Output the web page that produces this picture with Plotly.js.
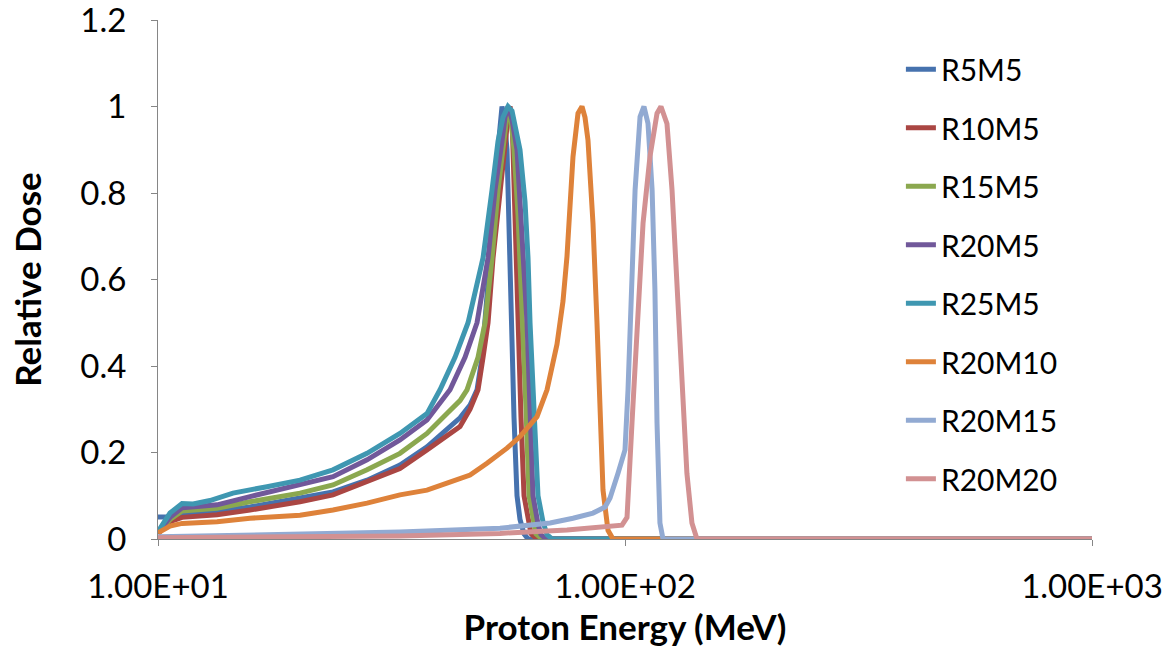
<!DOCTYPE html>
<html>
<head>
<meta charset="utf-8">
<script src="https://cdn.plot.ly/plotly-3.0.1.min.js"></script>
<style>html,body{margin:0;padding:0;background:#fff;}#chart{width:1167px;height:651px;}</style>
</head>
<body>
<div id="chart"></div>
<script>
// Proton energy (MeV) and relative dose for each series
const R5M5_energy = [10.00,10.50,11.26,13.38,15.74,20.14,23.70,28.03,32.97,37.67,41.57,44.33,46.58,48.21,49.41,50.15,51.40,52.43,53.47,54.00,54.53,55.07,55.89,56.45,57.01,57.86,58.72,59.59,60.78,61.99,1000];
const R5M5_dose   = [0.051,0.051,0.058,0.064,0.074,0.094,0.109,0.136,0.171,0.213,0.252,0.28,0.31,0.345,0.42,0.5,0.65,0.807,0.92,0.975,1.0,0.98,0.9,0.72,0.5,0.28,0.1,0.045,0.012,0,0];

const R10M5_energy = [10.00,10.61,11.26,13.38,15.74,20.14,23.70,28.03,32.97,37.67,41.57,44.33,46.58,48.45,49.66,50.90,52.17,54.00,55.62,56.17,56.73,57.29,57.57,58.14,59.01,59.89,60.78,61.99,62.92,64.80,1000];
const R10M5_dose   = [0.012,0.04,0.05,0.056,0.067,0.086,0.102,0.133,0.163,0.206,0.237,0.26,0.3,0.345,0.42,0.5,0.65,0.807,0.92,0.975,1.0,0.97,0.9,0.72,0.5,0.28,0.1,0.04,0.012,0,0];

const R15M5_energy = [10.00,10.61,11.26,13.38,15.74,20.14,23.70,28.03,32.97,37.67,41.57,44.33,45.89,48.45,50.15,51.91,53.47,55.07,55.62,56.17,57.01,57.86,59.01,60.48,61.38,62.30,63.53,64.48,66.42,1000];
const R15M5_dose   = [0.014,0.045,0.065,0.071,0.086,0.106,0.125,0.16,0.198,0.244,0.29,0.32,0.345,0.42,0.5,0.65,0.807,0.92,0.975,1.0,0.97,0.9,0.75,0.5,0.3,0.1,0.04,0.012,0,0];

const R20M5_energy = [10.00,10.61,11.26,13.38,15.74,20.14,23.70,28.03,32.97,37.67,40.17,42.20,45.44,48.21,50.90,52.69,54.53,55.34,56.17,57.29,58.72,60.18,61.69,62.61,63.53,65.12,66.09,67.74,1000];
const R20M5_dose   = [0.015,0.05,0.072,0.079,0.098,0.125,0.144,0.183,0.229,0.275,0.314,0.345,0.42,0.5,0.65,0.807,0.92,0.975,1.0,0.97,0.9,0.72,0.5,0.3,0.1,0.035,0.01,0,0];

const R25M5_energy = [10.00,10.61,11.26,11.89,12.92,14.47,17.12,20.14,23.70,28.03,32.97,37.67,40.17,43.25,46.12,49.66,51.91,53.47,54.80,56.17,57.29,58.43,59.59,61.08,61.99,62.61,63.85,65.12,66.74,68.08,69.77,1000];
const R25M5_dose   = [0.017,0.06,0.082,0.081,0.089,0.106,0.121,0.136,0.16,0.198,0.244,0.29,0.345,0.42,0.5,0.65,0.807,0.92,0.975,1.0,0.99,0.95,0.9,0.78,0.65,0.5,0.3,0.1,0.04,0.01,0,0];

const R20M10_energy = [10.00,10.61,11.26,13.38,15.74,20.14,23.70,28.03,32.97,37.67,41.57,46.58,50.64,55.89,59.59,64.80,68.08,71.51,73.66,75.12,77.38,79.31,80.89,82.10,83.32,85.40,87.10,88.40,89.72,91.96,94.25,1000];
const R20M10_dose   = [0.014,0.03,0.036,0.04,0.048,0.055,0.067,0.083,0.102,0.113,0.129,0.148,0.175,0.21,0.237,0.283,0.345,0.45,0.55,0.653,0.884,0.984,1.0,0.975,0.922,0.73,0.5,0.268,0.113,0.02,0,0];

const R20M15_energy = [10.00,20.14,32.97,54.00,69.11,77.38,85.40,90.62,92.89,96.61,100.0,101.5,103.5,105.1,107.7,109.8,112.0,114.3,115.9,117.1,118.8,120.6,1000];
const R20M15_dose   = [0.005,0.01,0.016,0.025,0.037,0.048,0.06,0.074,0.095,0.152,0.206,0.345,0.576,0.807,0.976,1.0,0.961,0.807,0.576,0.268,0.037,0,0];

const R20M20_energy = [10.00,20.14,32.97,54.00,75.12,98.53,101.0,103.5,106.1,109.3,113.1,117.1,119.4,123.0,126.1,129.2,132.5,135.7,139.1,142.6,1000];
const R20M20_dose   = [0.003,0.005,0.007,0.013,0.021,0.032,0.05,0.268,0.5,0.73,0.884,0.984,1.0,0.96,0.807,0.576,0.345,0.152,0.037,0,0];

const seriesNames = ['R5M5','R10M5','R15M5','R20M5','R25M5','R20M10','R20M15','R20M20'];
const seriesEnergy = [R5M5_energy,R10M5_energy,R15M5_energy,R20M5_energy,R25M5_energy,R20M10_energy,R20M15_energy,R20M20_energy];
const seriesDose = [R5M5_dose,R10M5_dose,R15M5_dose,R20M5_dose,R25M5_dose,R20M10_dose,R20M15_dose,R20M20_dose];
const seriesColors = ['#4672AE','#AA4643','#8BA84F','#71589A','#3F97B1','#DE823A','#92AAD2','#D29192'];

const xTickVals = [10,100,1000];
const xTickText = ['1.00E+01','1.00E+02','1.00E+03'];
const yTickVals = [0,0.2,0.4,0.6,0.8,1,1.2];
const yTickText = ['0','0.2','0.4','0.6','0.8','1','1.2'];

const FONT = 'Lato, "Open Sans", sans-serif';

const traces = seriesNames.map((n,i)=>({
  type:'scatter', mode:'lines', name:n,
  x: seriesEnergy[i], y: seriesDose[i],
  legendgroup: 'g'+i,
  line:{color:seriesColors[i], width:5}
}));

const layout = {
  width:1167, height:651,
  margin:{l:158, r:75, t:20, b:112},
  paper_bgcolor:'#ffffff', plot_bgcolor:'#ffffff',
  font:{family:FONT, size:30, color:'#000'},
  showlegend:true,
  legend:{x:0.7954, xanchor:'left', y:0.955, yanchor:'top', traceorder:'grouped', tracegroupgap:16.5,
          font:{family:FONT, size:30, color:'#000'}, bgcolor:'rgba(0,0,0,0)', borderwidth:0},
  xaxis:{type:'log', range:[1,3], tickvals:xTickVals, ticktext:xTickText,
         ticks:'outside', ticklen:6, tickcolor:'#868686', tickwidth:1, ticklabelstandoff:12,
         ticklabeloverflow:'allow',
         showline:true, linecolor:'#868686', linewidth:1, showgrid:false, zeroline:false,
         tickfont:{family:FONT, size:33, color:'#000'},
         title:{text:'Proton Energy (MeV)', font:{family:FONT, size:35, color:'#000', weight:'bold'}, standoff:8}},
  yaxis:{range:[0,1.2], tickvals:yTickVals, ticktext:yTickText,
         ticks:'outside', ticklen:6, tickcolor:'#868686', tickwidth:1, ticklabelstandoff:18,
         ticklabeloverflow:'allow',
         showline:true, linecolor:'#868686', linewidth:1, showgrid:false, zeroline:false,
         tickfont:{family:FONT, size:33, color:'#000'},
         title:{text:'Relative Dose', font:{family:FONT, size:35, color:'#000', weight:'bold'}, standoff:28}}
};

Plotly.newPlot('chart', traces, layout, {displayModeBar:false, staticPlot:true});
</script>
</body>
</html>
